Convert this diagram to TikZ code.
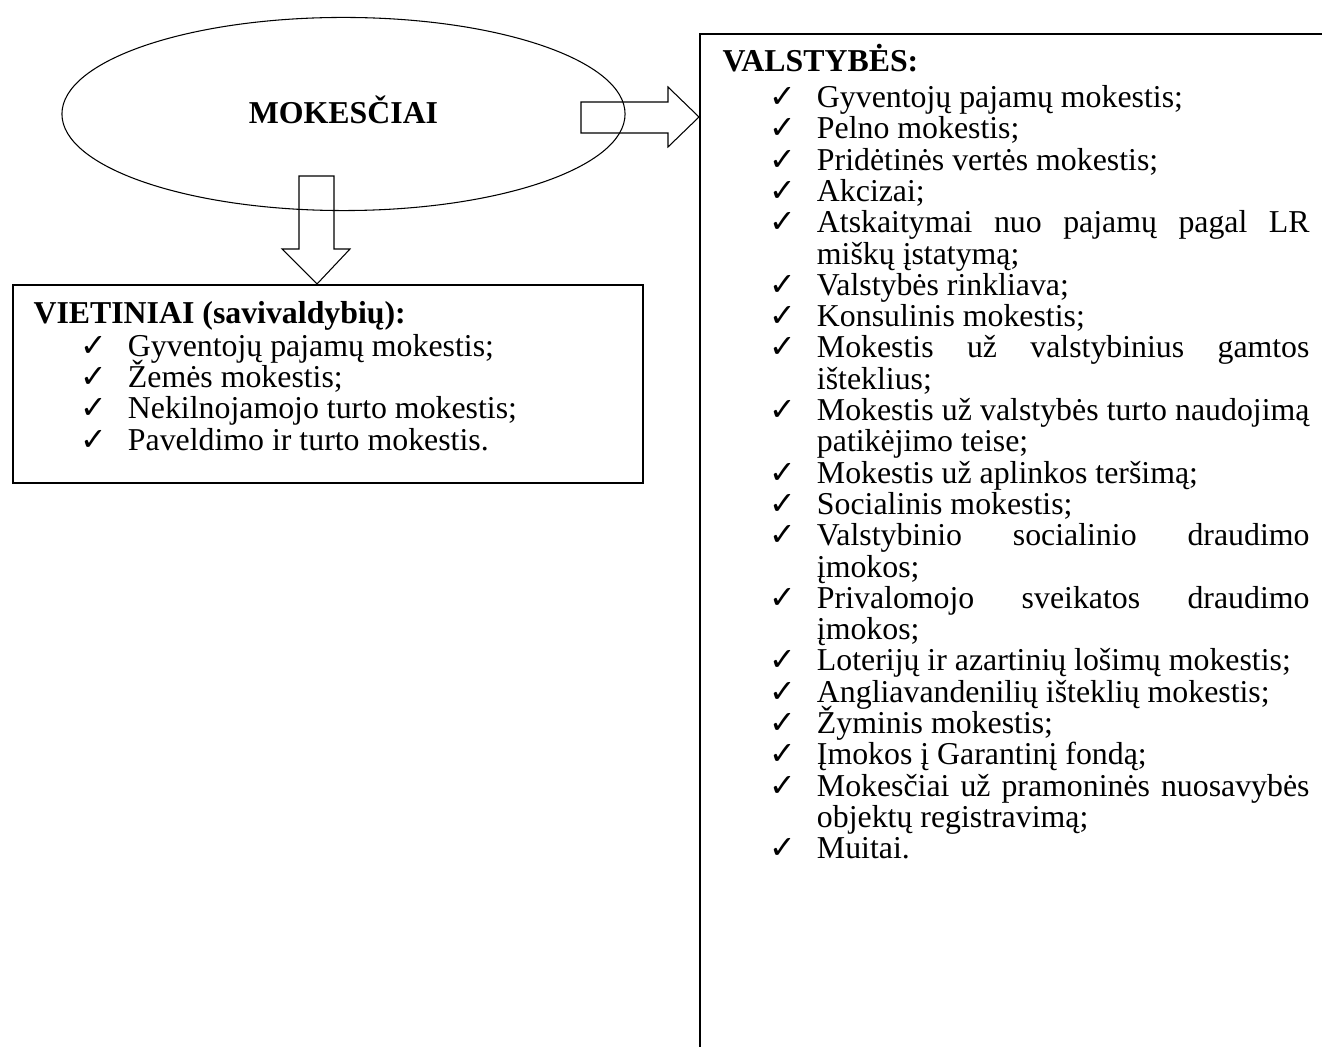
\documentclass[tikz,border=0pt]{standalone}
\usepackage{fontspec}
\setmainfont{Liberation Serif}
\newfontfamily\checkfont{DejaVu Sans}
\usepackage{tikz}
\usetikzlibrary{shapes.geometric, calc}

% one list entry: check mark hanging left of an indented, justified paragraph
\newcommand{\taxitem}[1]{\par\leftskip=35.6pt\noindent\llap{\makebox[17.9pt][l]{\checkfont\bfseries\fontsize{12pt}{10pt}\selectfont ✓}}#1\par}

\begin{document}
\begin{tikzpicture}[
        x=0.377pt, y=-0.377pt,
        oval/.style={draw, ellipse, line width=0.4pt, inner sep=0pt, minimum width=212.3pt, minimum height=72.8pt, font=\bfseries\fontsize{12pt}{11.8pt}\selectfont},
        taxbox/.style={draw, line width=0.75pt, anchor=north west, inner sep=0pt},
        blockarrow/.style={draw, line width=0.4pt, line join=miter},
        listtext/.style={anchor=base west, inner sep=0pt, align=justify, font=\fontsize{12pt}{11.8pt}\selectfont},
        every node/.style={inner sep=0pt}
    ]
    \useasboundingbox (0,0) rectangle (1322,1047);
    \clip (0,0) rectangle (1322,1047);

    % --- Top: the tax ellipse ---
    \node[oval] (mok) at (343.5,114) {\raisebox{3.5pt}{MOKESČIAI}};

    % --- Boxes ---
    \node[taxbox, minimum width=237.5pt, minimum height=74.6pt] (vietbox) at (12,284) {};
    \node[taxbox, minimum width=260pt, minimum height=420pt] (valstbox) at (699,33) {};

    % --- Block arrows from the ellipse to the boxes ---
    \coordinate (rtip) at ($(valstbox.north west)+(0,84)$);
    \coordinate (dtip) at ($(vietbox.north west)+(305,0)$);
    \draw[blockarrow] (rtip) -- ++(-31,-30) -- ++(0,15) -- ++(-87,0) -- ++(0,31) -- ++(87,0) -- ++(0,14) -- cycle;
    \draw[blockarrow] (dtip) -- ++(-35,-35) -- ++(17,0) -- ++(0,-73) -- ++(35,0) -- ++(0,73) -- ++(16,0) -- cycle;

    % --- Local taxes ---
    \node[listtext, text width=225pt] (viettext) at (33,324) {\hyphenpenalty=10000\parskip=0pt\lineskiplimit=-100pt\lineskip=0pt
        \textbf{VIETINIAI (savivaldybių):}\par\vskip0.4pt
        \taxitem{Gyventojų pajamų mokestis;}
        \taxitem{Žemės mokestis;}
        \taxitem{Nekilnojamojo turto mokestis;}
        \taxitem{Paveldimo ir turto mokestis.}};

    % --- State taxes ---
    \node[listtext, text width=221.3pt] (valsttext) at (722,72) {\hyphenpenalty=10000\parskip=0pt\emergencystretch=2em\lineskiplimit=-100pt\lineskip=0pt
        \textbf{VALSTYBĖS:}\par\vskip1.6pt
        \taxitem{Gyventojų pajamų mokestis;}
        \taxitem{Pelno mokestis;}
        \taxitem{Pridėtinės vertės mokestis;}
        \taxitem{Akcizai;}
        \taxitem{Atskaitymai nuo pajamų pagal LR\linebreak miškų įstatymą;}
        \taxitem{Valstybės rinkliava;}
        \taxitem{Konsulinis mokestis;}
        \taxitem{Mokestis už valstybinius gamtos\linebreak išteklius;}
        \taxitem{Mokestis už valstybės turto naudojimą\linebreak patikėjimo teise;}
        \taxitem{Mokestis už aplinkos teršimą;}
        \taxitem{Socialinis mokestis;}
        \taxitem{Valstybinio socialinio draudimo\linebreak įmokos;}
        \taxitem{Privalomojo sveikatos draudimo\linebreak įmokos;}
        \taxitem{Loterijų ir azartinių lošimų mokestis;}
        \taxitem{Angliavandenilių išteklių mokestis;}
        \taxitem{Žyminis mokestis;}
        \taxitem{Įmokos į Garantinį fondą;}
        \taxitem{Mokesčiai už pramoninės nuosavybės\linebreak objektų registravimą;}
        \taxitem{Muitai.}};
\end{tikzpicture}
\end{document}
